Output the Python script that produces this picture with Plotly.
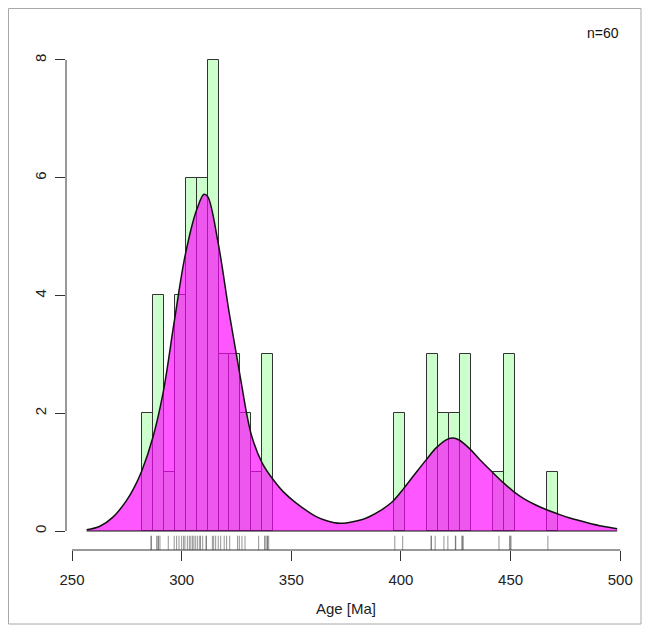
import plotly.graph_objects as go

# ---------------- data ----------------
# histogram (bin centres, 5 Ma wide bins) and counts
bin_centers = [284.3, 289.3, 294.3, 299.3, 304.3, 309.3, 314.3, 319.3, 324.3, 329.3,
               334.3, 339.3, 399.3, 414.3, 419.3, 424.3, 429.3, 444.3, 449.3, 469.3]
bin_counts = [2, 4, 1, 4, 6, 6, 8, 3, 3, 2,
              1, 3, 2, 3, 2, 2, 3, 1, 3, 1]
bin_width = 5.0

# kernel density curve (scaled to counts)
kde_x = [256.7, 262.7, 268.8, 274.9, 278.5, 281.8, 286.8, 291.6, 296.6, 301.6,
         306.8, 310.2, 311.9, 316.7, 321.7, 326.7, 331.8, 336.8, 341.8, 346.5,
         352.4, 361.6, 366.5, 372.2, 377.0, 382.8, 386.0, 390.4, 396.2, 401.2,
         406.0, 411.3, 416.3, 421.3, 423.8, 426.3, 431.3, 436.0, 441.4, 446.4,
         451.4, 456.0, 461.0, 466.4, 471.5, 477.0, 485.0, 492.0, 498.6]
kde_y = [0.02, 0.08, 0.24, 0.52, 0.75, 1.02, 1.58, 2.36, 3.55, 4.68,
         5.45, 5.72, 5.68, 4.88, 3.70, 2.62, 1.63, 1.15, 0.87, 0.66,
         0.47, 0.24, 0.17, 0.13, 0.15, 0.20, 0.25, 0.34, 0.50, 0.72,
         0.95, 1.20, 1.42, 1.56, 1.58, 1.55, 1.40, 1.21, 1.01, 0.83,
         0.67, 0.55, 0.45, 0.36, 0.29, 0.22, 0.14, 0.08, 0.04]

# individual ages (rug)
ages = [286.0, 286.2, 288.6, 289.2, 289.4, 290.1, 293.9, 296.6, 297.7, 298.8,
        300.0, 300.9, 301.5, 302.6, 303.5, 304.2, 305.0, 305.6, 306.4, 307.3,
        308.3, 308.5, 309.6, 311.1, 311.3, 314.0, 314.6, 315.5, 316.7, 317.8,
        319.4, 320.5, 321.9, 325.5, 326.3, 327.5, 328.9, 335.1, 337.8, 338.4,
        339.0, 339.2, 339.7,
        397.2, 400.8, 413.7, 413.9, 415.6, 419.6, 421.4, 424.8, 425.0, 427.8,
        428.0, 428.4, 444.7, 449.6, 449.8, 450.2, 467.0]

x_ticks = [250, 300, 350, 400, 450, 500]
y_ticks = [0, 2, 4, 6, 8]
x_title = "Age [Ma]"
n_label = "n=%d" % len(ages)

# ---------------- figure ----------------
FONT = "Liberation Sans, Arial, Helvetica, sans-serif"
W, H = 651, 633
OFF = 8                      # page body margin of the html page
PX_L, PX_T = 66, 20          # plot-area top-left in the window
PW, PH = 564, 530
L, T = PX_L - OFF, PX_T - OFF
R, B = W - L - PW, H - T - PH

x_range = [247.26, 504.45]
y_range = [-0.3226, 8.679]


def px(xw):
    return (xw - PX_L) / PW


def py(yw):
    return (PX_T + PH - yw) / PH


fig = go.Figure()

fig.add_trace(go.Bar(
    x=bin_centers, y=bin_counts, width=[bin_width] * len(bin_centers),
    marker=dict(color="#CCFFCC", line=dict(color="#333333", width=1)),
    hoverinfo="skip",
))

fig.add_trace(go.Scatter(
    x=kde_x, y=kde_y, mode="lines", fill="tozeroy",
    fillcolor="rgba(255,0,255,0.66)",
    line=dict(color="#111111", width=1.5, shape="spline", smoothing=1.0),
    hoverinfo="skip",
))

rug_x, rug_y = [], []
for a in ages:
    rug_x += [a, a, None]
    rug_y += [-0.08, y_range[0], None]
fig.add_trace(go.Scatter(
    x=rug_x, y=rug_y, mode="lines",
    line=dict(color="rgba(60,60,60,0.55)", width=1),
    hoverinfo="skip", cliponaxis=False,
))

shapes = [
    dict(type="line", xref="x", yref="y", x0=kde_x[0], x1=kde_x[-1], y0=0, y1=0,
         line=dict(color="#111111", width=1.2), layer="above"),
    dict(type="line", xref="paper", yref="y", x0=0, x1=0, y0=y_ticks[0], y1=y_ticks[-1],
         line=dict(color="#333333", width=1)),
    dict(type="line", xref="x", yref="paper", x0=x_ticks[0], x1=x_ticks[-1], y0=0, y1=0,
         line=dict(color="#333333", width=1)),
    dict(type="rect", xref="paper", yref="paper",
         x0=px(8.5), x1=px(641), y0=py(624), y1=py(8.5),
         line=dict(color="#A8A8A8", width=1)),
]

fig.update_layout(
    width=W, height=H,
    margin=dict(l=L, r=R, t=T, b=B, pad=0),
    paper_bgcolor="white", plot_bgcolor="white",
    showlegend=False, bargap=0,
    font=dict(family=FONT, size=15, color="#222222"),
    shapes=shapes,
    xaxis=dict(range=x_range, tickvals=x_ticks, ticks="outside", ticklen=10,
               tickcolor="#333333", tickwidth=1, showline=False, showgrid=False,
               zeroline=False, tickfont=dict(size=15, color="#222222"),
               ticklabelstandoff=6),
    yaxis=dict(range=y_range, tickvals=y_ticks, ticks="outside", ticklen=10,
               tickcolor="#333333", tickwidth=1, showline=False, showgrid=False,
               zeroline=False, tickangle=-90, tickfont=dict(size=15, color="#222222"),
               ticklabelstandoff=3),
    annotations=[
        dict(text=x_title, xref="x", yref="paper", x=375, y=py(608),
             xanchor="center", yanchor="middle", showarrow=False,
             font=dict(size=15, color="#222222")),
        dict(text=n_label, xref="paper", yref="paper", x=px(621),
             y=py(33), xanchor="right", yanchor="middle",
             showarrow=False, font=dict(size=14, color="#111111")),
    ],
)

fig.write_html("out.html")
